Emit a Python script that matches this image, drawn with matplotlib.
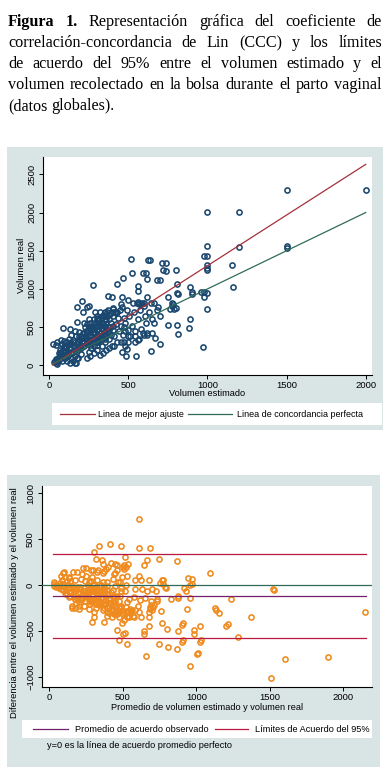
import numpy as np
import matplotlib
matplotlib.use("Agg")
import matplotlib.pyplot as plt
from matplotlib.patches import Rectangle
from matplotlib.lines import Line2D

# --- data (volumen estimado, volumen real) ---
est_vol = [30, 35, 40, 45, 50, 55, 60, 65, 70, 75, 80, 85, 90, 95, 100, 100, 60, 70, 80, 90,
           50, 40, 25, 46, 72, 84, 110, 120, 130, 140,
           105, 110, 115, 120, 125, 130, 131, 135, 140, 145, 150, 155, 160, 160, 165, 170, 173, 175,
           180, 185, 190, 195, 200, 200, 170, 180, 150, 173, 173, 204,
           205, 210, 215, 220, 225, 230, 236, 240, 245, 250, 253, 255, 260, 265, 270, 275, 274, 280,
           285, 290, 295, 300, 236, 250, 260, 280, 300, 290, 210, 220, 240, 260, 270, 300, 300,
           305, 310, 315, 320, 325, 330, 335, 340, 345, 350, 355, 360, 365, 370, 373, 375, 380, 385,
           390, 394, 395, 400, 340, 360, 320, 380, 350, 330, 310, 390,
           405, 410, 415, 420, 425, 430, 435, 440, 445, 450, 457, 460, 465, 468, 470, 475, 480, 485,
           490, 493, 495, 500, 410, 450, 480, 470,
           505, 510, 514, 520, 525, 530, 535, 540, 548, 555, 558, 558, 560, 565, 570, 575, 580, 585,
           590, 594, 600, 605, 609, 612, 615, 620, 620, 625, 630, 636, 640, 645, 650, 540, 560, 580, 600,
           660, 670, 680, 690, 700, 700, 715, 720, 735, 740, 752, 752, 760, 773, 778, 790, 800, 800,
           805, 805, 805, 815, 815, 780, 700, 660, 680,
           885, 890, 890, 900, 900, 960, 970, 975, 980, 980, 1000, 1000, 1000, 1000, 1000, 1000, 1000,
           1000, 1155, 1160, 1200, 1200, 1500, 1500, 1500, 2000,
           150, 160, 170, 180, 190, 200, 210, 220, 230, 240, 250, 260, 270, 280, 290, 300, 310, 320,
           330, 340, 350, 360, 370, 380, 390, 400, 250, 270, 300, 320, 350, 280, 240, 200, 120, 140,
           110, 90, 300, 330, 360, 380, 400, 420, 300, 260, 230, 350, 310, 340,
           100, 130, 150, 190, 220, 250, 280, 310, 340, 370, 400, 430, 460, 200, 240, 280, 320, 360,
           600, 620, 560, 540, 500, 650, 480, 300, 350, 400, 450, 500, 250]
real_vol = [40, 60, 30, 80, 50, 100, 70, 150, 120, 170, 60, 200, 140, 250, 180, 90, 160, 200, 280, 320,
            20, 270, 280, 300, 330, 493, 60, 120, 30, 100,
            230, 300, 180, 260, 350, 210, 476, 290, 400, 160, 330, 240, 450, 30, 120, 380, 572, 280,
            200, 350, 440, 260, 150, 380, 30, 90, 60, 768, 92, 846,
            300, 420, 702, 250, 500, 350, 768, 280, 450, 320, 777, 560, 400, 220, 480, 330, 1047, 600,
            250, 420, 520, 350, 92, 180, 120, 160, 200, 700, 360, 560, 540, 260, 380, 460, 560,
            620, 300, 450, 700, 380, 560, 250, 480, 650, 400, 300, 540, 700, 420, 912, 600, 350, 500,
            680, 900, 250, 460, 160, 200, 140, 220, 600, 480, 520, 560,
            640, 380, 700, 540, 1065, 300, 620, 450, 720, 520, 900, 180, 400, 1140, 620, 300, 550, 122,
            720, 218, 460, 380, 250, 300, 450, 500,
            640, 380, 1395, 1213, 520, 820, 700, 450, 122, 820, 1040, 977, 600, 800, 350, 720, 480, 820,
            420, 1213, 780, 650, 1213, 560, 900, 1125, 400, 1380, 700, 1380, 192, 820, 600, 380, 830, 800, 820,
            810, 360, 1120, 760, 1120, 280, 1335, 1250, 1335, 1230, 530, 900, 740, 810, 770, 740, 1250, 745,
            1065, 950, 530, 935, 410, 800, 650, 560, 720,
            485, 605, 1030, 965, 935, 960, 245, 965, 900, 1430, 1430, 1565, 1310, 1270, 1250, 940, 740,
            2010, 1310, 1030, 2010, 1550, 2290, 1560, 1540, 2290,
            180, 200, 250, 300, 230, 270, 320, 300, 400, 350, 380, 330, 300, 420, 350, 400, 380, 420,
            350, 400, 450, 380, 500, 460, 400, 520, 450, 520, 300, 520, 520, 350, 300, 220, 150, 180,
            140, 100, 600, 620, 640, 660, 700, 680, 260, 470, 450, 350, 330, 540,
            250, 280, 300, 380, 420, 500, 560, 600, 660, 720, 740, 700, 760, 360, 430, 480, 540, 600,
            400, 420, 330, 300, 300, 420, 250, 650, 700, 750, 800, 850, 600]

fit_x = [20, 2000]        # linea de mejor ajuste
fit_y = [5, 2630]
perf_x = [20, 2000]       # linea de concordancia perfecta
perf_y = [20, 2000]

mean_diff = -120          # promedio de acuerdo observado
loa = [335, -575]         # limites de acuerdo del 95%
loa_x = [27, 2152]

title_lines = [
    [("Figura", True), ("1.", True), ("Representación", False), ("gráfica", False), ("del", False),
     ("coeficiente", False), ("de", False)],
    [(w, False) for w in "correlación-concordancia de Lin (CCC) y los límites".split()],
    [(w, False) for w in "de acuerdo del 95% entre el volumen estimado y el".split()],
    [(w, False) for w in "volumen recolectado en la bolsa durante el parto vaginal".split()],
    [(w, False) for w in "(datos globales).".split()],
]

BG = "#d9e4e4"
NAVY = "#1a476f"
ORANGE = "#ef8a1e"
RED = "#a3313b"
GREEN = "#2f6b58"
PURPLE = "#74206a"
CRIMSON = "#b8173f"
SANS = "Liberation Sans"

W, H = 388, 778
fig = plt.figure(figsize=(W / 100, H / 100), dpi=100)


def fx(x):
    return x / W


def fy(y):
    return 1 - y / H


def box(x0, y0, x1, y1, color, z):
    fig.add_artist(Rectangle((fx(x0), fy(y1)), (x1 - x0) / W, (y1 - y0) / H,
                             transform=fig.transFigure, facecolor=color,
                             edgecolor="none", zorder=z))


def hline(x0, x1, y, color):
    fig.add_artist(Line2D([fx(x0), fx(x1)], [fy(y), fy(y)], transform=fig.transFigure,
                          color=color, lw=0.9, zorder=3))


# title, justified like the source
renderer = fig.canvas.get_renderer()
baselines = [26, 47, 68, 89, 110]
for i, words in enumerate(title_lines):
    texts = [fig.text(0, fy(baselines[i]), w, fontsize=11.6, family="Liberation Serif",
                      weight="bold" if b else "normal", va="baseline") for w, b in words]
    widths = [t.get_window_extent(renderer).width for t in texts]
    if i < len(title_lines) - 1:
        gap = (382 - 8 - sum(widths)) / (len(texts) - 1)
    else:
        gap = 3.5
    x = 8
    for t, wd in zip(texts, widths):
        t.set_x(fx(x))
        x += wd + gap

# gray graph regions
box(7, 147, 383, 430, BG, -2)
box(7, 475, 380, 767, BG, -2)


def style(ax, fs, ypad):
    for s in ["top", "right"]:
        ax.spines[s].set_visible(False)
    for s in ["left", "bottom"]:
        ax.spines[s].set_linewidth(0.8)
    ax.tick_params(direction="out", length=3, width=0.7, labelsize=fs, labelfontfamily=SANS)
    ax.tick_params(axis="y", labelrotation=90, pad=ypad)
    for lab in ax.get_yticklabels():
        lab.set_va("center")


# --- panel 1: scatter ---
ax1 = fig.add_axes([fx(43), fy(375), 329 / W, 218 / H])
ax1.plot(est_vol, real_vol, "o", mfc="none", mec=NAVY, ms=3.7, mew=1.15, zorder=2)
ax1.plot(fit_x, fit_y, color=RED, lw=0.9, zorder=3)
ax1.plot(perf_x, perf_y, color=GREEN, lw=0.9, zorder=3)
ax1.set_xlim(-40, 2040)
ax1.set_ylim(-127, 2727)
ax1.set_xticks([0, 500, 1000, 1500, 2000])
ax1.set_yticks([0, 500, 1000, 1500, 2000, 2500])
ax1.tick_params(axis="x", pad=1)
style(ax1, 6.8, 2)
fig.text(fx(207), fy(393), "Volumen estimado", fontsize=6.7, family=SANS, ha="center", va="center")
fig.text(fx(21.5), fy(265), "Volumen real", fontsize=6.8, family=SANS, ha="center", va="center",
         rotation=90)

box(51.7, 403.3, 381.7, 425, "white", -1)
hline(60, 95, 414, RED)
hline(188, 232, 414, GREEN)
fig.text(fx(98), fy(414), "Linea de mejor ajuste", fontsize=6.4, family=SANS, va="center")
fig.text(fx(237), fy(414), "Linea de concordancia perfecta", fontsize=6.5, family=SANS, va="center")

# --- panel 2: Bland-Altman ---
est = np.array(est_vol, dtype=float)
real = np.array(real_vol, dtype=float)
avg = (est + real) / 2
diff = est - real

ax2 = fig.add_axes([fx(42), fy(687), 330 / W, 201 / H])
ax2.plot(avg, diff, "o", mfc="none", mec=ORANGE, ms=3.7, mew=1.15, zorder=2)
ax2.axhline(0, color=GREEN, lw=0.9, zorder=3)
ax2.plot(loa_x, [mean_diff, mean_diff], color=PURPLE, lw=0.9, zorder=3)
for v in loa:
    ax2.plot(loa_x, [v, v], color=CRIMSON, lw=0.9, zorder=3)
ax2.set_xlim(-50, 2195)
ax2.set_ylim(-1113, 1080)
ax2.set_xticks([0, 500, 1000, 1500, 2000])
ax2.set_yticks([-1000, -500, 0, 500, 1000])
ax2.tick_params(axis="x", pad=1)
style(ax2, 6.8, 2)
fig.text(fx(207.5), fy(708), "Promedio de volumen estimado y volumen real", fontsize=6.6,
         family=SANS, ha="center", va="center")
fig.text(fx(15), fy(603), "Diferencia entre el volumen estimado y el volumen real", fontsize=6.8,
         family=SANS, ha="center", va="center", rotation=90)

box(21.7, 720, 371.7, 738, "white", -1)
hline(33, 68, 729.3, PURPLE)
hline(215, 248, 729.3, CRIMSON)
fig.text(fx(75), fy(729.3), "Promedio de acuerdo observado", fontsize=6.6, family=SANS, va="center")
fig.text(fx(255), fy(729.3), "Límites de Acuerdo del 95%", fontsize=6.6, family=SANS, va="center")
fig.text(fx(46.7), fy(746), "y=0 es la línea de acuerdo promedio perfecto", fontsize=6.6,
         family=SANS, va="center")

fig.savefig("out.png", dpi=100)
